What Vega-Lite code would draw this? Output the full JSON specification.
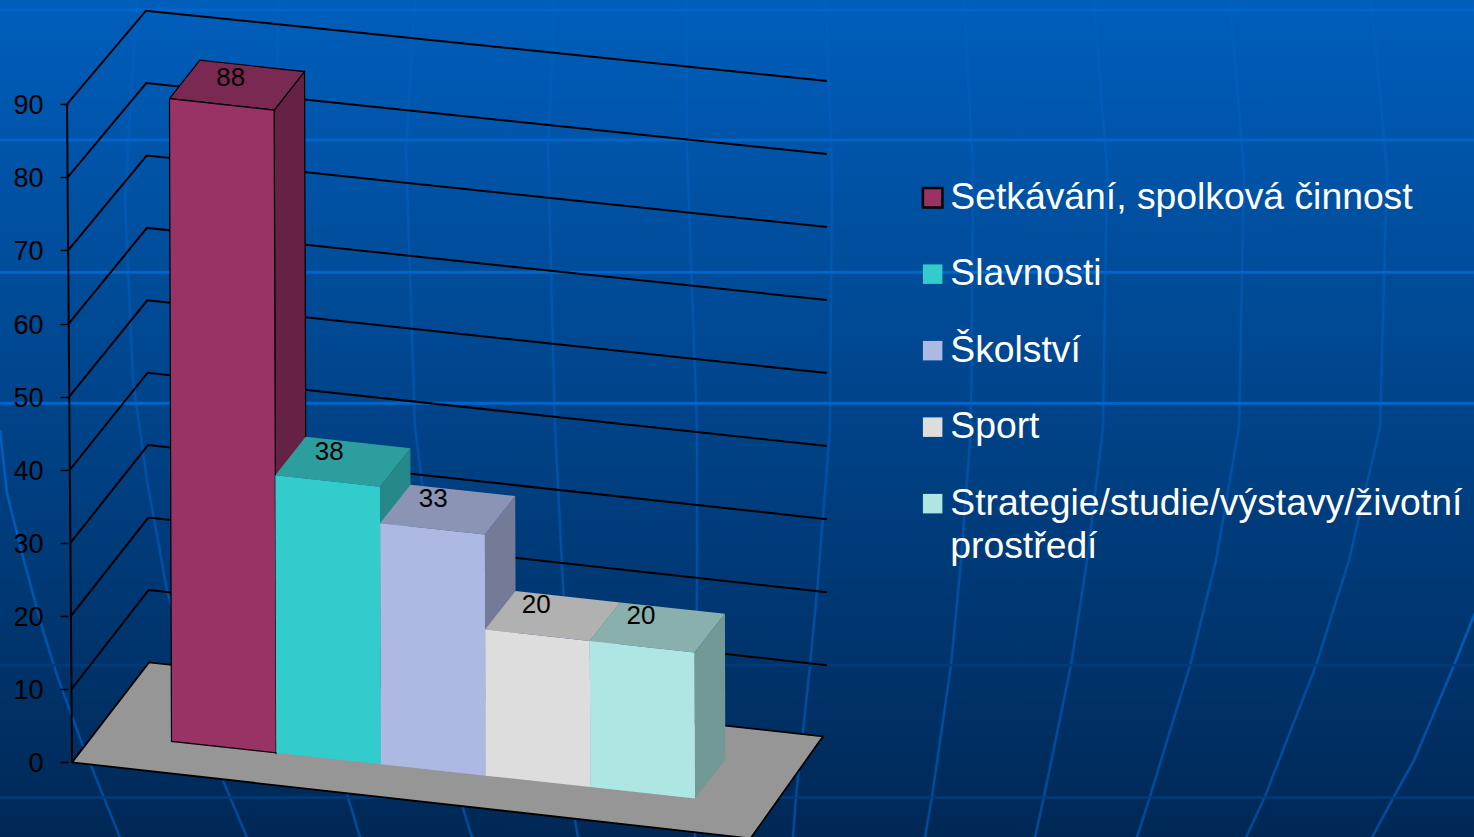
{"$schema":"https://vega.github.io/schema/vega-lite/v6.json","width":1474,"height":837,"padding":0,"autosize":{"type":"none"},"view":{"stroke":null,"fill":{"gradient":"linear","x1":0,"y1":0,"x2":0,"y2":1,"stops":[{"offset":0,"color":"#005EBB"},{"offset":1,"color":"#002856"}]}},
"datasets":{"bars":[{"category":"Setkávání, spolková činnost","value":88},{"category":"Slavnosti","value":38},{"category":"Školství","value":33},{"category":"Sport","value":20},{"category":"Strategie/studie/výstavy/životní prostředí","value":20}],
"levels":[{"level":0},{"level":10},{"level":20},{"level":30},{"level":40},{"level":50},{"level":60},{"level":70},{"level":80},{"level":90}],
"backdrop":[
{"k":"a","l":"h10","gx":0,"gy":10},{"k":"a","l":"h10","gx":1474,"gy":10},{"k":"a","l":"h140","gx":0,"gy":140},{"k":"a","l":"h140","gx":1474,"gy":140},{"k":"a","l":"h272","gx":0,"gy":272},{"k":"a","l":"h272","gx":1474,"gy":272},{"k":"a","l":"h403","gx":0,"gy":403},{"k":"a","l":"h403","gx":1474,"gy":403},
{"k":"c","l":"h665","gx":0,"gy":665},{"k":"c","l":"h665","gx":1474,"gy":665},{"k":"c","l":"h797","gx":0,"gy":797},{"k":"c","l":"h797","gx":1474,"gy":797},
{"k":"g","l":"m1","gx":826,"gy":0},{"k":"g","l":"m1","gx":832,"gy":170},{"k":"g","l":"m1","gx":830,"gy":427},{"k":"g","l":"m1","gx":818,"gy":580},{"k":"g","l":"m1","gx":810,"gy":665},{"k":"g","l":"m1","gx":796,"gy":796},{"k":"g","l":"m1","gx":793,"gy":837},
{"k":"g","l":"m2","gx":964,"gy":0},{"k":"g","l":"m2","gx":973,"gy":170},{"k":"g","l":"m2","gx":971,"gy":427},{"k":"g","l":"m2","gx":961,"gy":560},{"k":"g","l":"m2","gx":951,"gy":665},{"k":"g","l":"m2","gx":932,"gy":796},{"k":"g","l":"m2","gx":925,"gy":837},
{"k":"g","l":"m3","gx":1094,"gy":0},{"k":"g","l":"m3","gx":1107,"gy":170},{"k":"g","l":"m3","gx":1103,"gy":427},{"k":"g","l":"m3","gx":1087,"gy":560},{"k":"g","l":"m3","gx":1071,"gy":665},{"k":"g","l":"m3","gx":1044,"gy":796},{"k":"g","l":"m3","gx":1035,"gy":837},
{"k":"g","l":"m4","gx":1230,"gy":0},{"k":"g","l":"m4","gx":1244,"gy":170},{"k":"g","l":"m4","gx":1239,"gy":427},{"k":"g","l":"m4","gx":1216,"gy":560},{"k":"g","l":"m4","gx":1190,"gy":665},{"k":"g","l":"m4","gx":1150,"gy":796},{"k":"g","l":"m4","gx":1137,"gy":837},
{"k":"g","l":"m5","gx":1371,"gy":0},{"k":"g","l":"m5","gx":1387,"gy":170},{"k":"g","l":"m5","gx":1380,"gy":427},{"k":"g","l":"m5","gx":1349,"gy":560},{"k":"g","l":"m5","gx":1316,"gy":665},{"k":"g","l":"m5","gx":1265,"gy":796},{"k":"g","l":"m5","gx":1246,"gy":837},
{"k":"g","l":"m6","gx":1480,"gy":600},{"k":"g","l":"m6","gx":1454,"gy":665},{"k":"g","l":"m6","gx":1414,"gy":760},{"k":"g","l":"m6","gx":1394,"gy":796},{"k":"g","l":"m6","gx":1372,"gy":837},
{"k":"g","l":"m0","gx":686,"gy":0},{"k":"g","l":"m0","gx":687,"gy":150},{"k":"g","l":"m0","gx":697,"gy":427},{"k":"g","l":"m0","gx":697,"gy":580},{"k":"g","l":"m0","gx":696,"gy":700},{"k":"g","l":"m0","gx":695,"gy":837},
{"k":"g","l":"m7","gx":555,"gy":0},{"k":"g","l":"m7","gx":548,"gy":150},{"k":"g","l":"m7","gx":555,"gy":427},{"k":"g","l":"m7","gx":575,"gy":820},{"k":"g","l":"m7","gx":578,"gy":837},
{"k":"g","l":"m8","gx":415,"gy":0},{"k":"g","l":"m8","gx":406,"gy":150},{"k":"g","l":"m8","gx":415,"gy":427},{"k":"g","l":"m8","gx":463,"gy":808},{"k":"g","l":"m8","gx":472,"gy":837},
{"k":"g","l":"m9","gx":278,"gy":0},{"k":"g","l":"m9","gx":276,"gy":200},{"k":"g","l":"m9","gx":290,"gy":427},{"k":"g","l":"m9","gx":348,"gy":797},{"k":"g","l":"m9","gx":360,"gy":837},
{"k":"g","l":"m10","gx":137,"gy":0},{"k":"g","l":"m10","gx":125,"gy":200},{"k":"g","l":"m10","gx":133,"gy":380},{"k":"g","l":"m10","gx":147,"gy":480},{"k":"g","l":"m10","gx":167,"gy":590},{"k":"g","l":"m10","gx":223,"gy":780},{"k":"g","l":"m10","gx":247,"gy":837},
{"k":"g","l":"m11","gx":0,"gy":430},{"k":"g","l":"m11","gx":7,"gy":493},{"k":"g","l":"m11","gx":23,"gy":557},{"k":"g","l":"m11","gx":43,"gy":630},{"k":"g","l":"m11","gx":57,"gy":675},{"k":"g","l":"m11","gx":82,"gy":743},{"k":"g","l":"m11","gx":120,"gy":837}
]},
"encoding":{"x":{"field":"px","type":"quantitative","scale":{"domain":[-1.638,12.44],"nice":false,"zero":false},"axis":null},"y":{"field":"py","type":"quantitative","scale":{"domain":[-10.2,104.24],"nice":false,"zero":false},"axis":{"values":[0,10,20,30,40,50,60,70,80,90],"title":null,"domain":false,"grid":false,"offset":-68,"tickSize":8,"tickWidth":1.5,"tickColor":"#000000","labelPadding":17,"labelOffset":1.5,"labelColor":"#000000","labelFontSize":27,"labelFont":"Liberation Sans","zindex":1}},"order":{"field":"o"}},
"layer":[
{"data":{"name":"backdrop"},"transform":[{"filter":"datum.k=='g'"},{"calculate":"(datum.gx-171.5)/104.7","as":"px"},{"calculate":"(762-datum.gy)/7.31","as":"py"},{"window":[{"op":"row_number","as":"o"}]}],"mark":{"type":"line","strokeWidth":2.5,"stroke":{"gradient":"linear","x1":0,"y1":0,"x2":0,"y2":1,"stops":[{"offset":0,"color":"#0060BE"},{"offset":0.5,"color":"#0052A8"},{"offset":1,"color":"#004A9A"}]}},"encoding":{"detail":{"field":"l"}}},
{"data":{"name":"backdrop"},"transform":[{"filter":"datum.k=='a'"},{"calculate":"(datum.gx-171.5)/104.7","as":"px"},{"calculate":"(762-datum.gy)/7.31","as":"py"},{"window":[{"op":"row_number","as":"o"}]}],"mark":{"type":"line","strokeWidth":3,"stroke":"#0066CC"},"encoding":{"detail":{"field":"l"}}},
{"data":{"name":"backdrop"},"transform":[{"filter":"datum.k=='c'"},{"calculate":"(datum.gx-171.5)/104.7","as":"px"},{"calculate":"(762-datum.gy)/7.31","as":"py"},{"window":[{"op":"row_number","as":"o"}]}],"mark":{"type":"line","strokeWidth":2.5,"stroke":"#003C7A"},"encoding":{"detail":{"field":"l"}}},
{"data":{"name":"levels"},"transform":[{"filter":"datum.level>0"},{"calculate":"[{o:0,x:-0.95-0.00053*datum.level,y:datum.level},{o:1,x:-0.215-0.00032*datum.level,y:13.68+0.99*datum.level},{o:2,x:6.26,y:3.3+0.9986*datum.level}]","as":"pts"},{"flatten":["pts"],"as":["p"]},{"calculate":"datum.p.x","as":"px"},{"calculate":"datum.p.y","as":"py"},{"calculate":"datum.p.o","as":"o"}],"mark":{"type":"line","stroke":"#000000","strokeWidth":2},"encoding":{"detail":{"field":"level"}}},
{"data":{"name":"levels"},"transform":[{"filter":"datum.level==0||datum.level==90"},{"calculate":"-0.95-0.00053*datum.level","as":"px"},{"calculate":"datum.level","as":"py"},{"calculate":"datum.level","as":"o"}],"mark":{"type":"line","stroke":"#000000","strokeWidth":2}},
{"data":{"name":"levels"},"transform":[{"filter":"datum.level==0"},{"calculate":"[{o:0,x:-0.95,y:0},{o:1,x:-0.215,y:13.68},{o:2,x:6.223,y:3.56},{o:3,x:5.53,y:-10.4},{o:4,x:-0.95,y:0}]","as":"pts"},{"flatten":["pts"],"as":["p"]},{"calculate":"datum.p.x","as":"px"},{"calculate":"datum.p.y","as":"py"},{"calculate":"datum.p.o","as":"o"}],"mark":{"type":"line","stroke":"#000000","strokeWidth":1.8,"fill":"#969696"}},
{"data":{"name":"bars"},"transform":[{"window":[{"op":"row_number","as":"n"}]},{"calculate":"datum.n-1","as":"i"},{"calculate":"2.87-1.56*datum.i","as":"b0"},{"calculate":"datum.b0-1.56","as":"b1"},{"calculate":"0.9986*datum.value","as":"t"},{"calculate":"0.00022*datum.value","as":"s"},{"calculate":"[{o:0,x:datum.i+1-datum.s,y:datum.b1+datum.t},{o:1,x:datum.i+1,y:datum.b1},{o:2,x:datum.i+1.29,y:datum.b1+5.27},{o:3,x:datum.i+1.29-datum.s,y:datum.b1+datum.t+5.27},{o:4,x:datum.i+1-datum.s,y:datum.b1+datum.t}]","as":"pts"},{"flatten":["pts"],"as":["p"]},{"calculate":"datum.p.x","as":"px"},{"calculate":"datum.p.y","as":"py"},{"calculate":"datum.p.o","as":"o"}],"mark":{"type":"line","strokeWidth":1.2},"encoding":{"fill":{"field":"category","type":"nominal","sort":null,"scale":{"range":["#662244","#268888","#747B97","#939393","#739997"]},"legend":null},"stroke":{"field":"category","type":"nominal","sort":null,"scale":{"range":["#000000","transparent","transparent","transparent","transparent"]},"legend":null}}},
{"data":{"name":"bars"},"transform":[{"window":[{"op":"row_number","as":"n"}]},{"calculate":"datum.n-1","as":"i"},{"calculate":"2.87-1.56*datum.i","as":"b0"},{"calculate":"datum.b0-1.56","as":"b1"},{"calculate":"0.9986*datum.value","as":"t"},{"calculate":"0.00022*datum.value","as":"s"},{"calculate":"[{o:0,x:datum.i-datum.s,y:datum.b0+datum.t},{o:1,x:datum.i+1-datum.s,y:datum.b1+datum.t},{o:2,x:datum.i+1.29-datum.s,y:datum.b1+datum.t+5.27},{o:3,x:datum.i+0.29-datum.s,y:datum.b0+datum.t+5.27},{o:4,x:datum.i-datum.s,y:datum.b0+datum.t}]","as":"pts"},{"flatten":["pts"],"as":["p"]},{"calculate":"datum.p.x","as":"px"},{"calculate":"datum.p.y","as":"py"},{"calculate":"datum.p.o","as":"o"}],"mark":{"type":"line","strokeWidth":1.2},"encoding":{"fill":{"field":"category","type":"nominal","sort":null,"scale":{"range":["#7A2952","#2D9E9E","#8C94B6","#B1B1B1","#8AB0AE"]},"legend":null},"stroke":{"field":"category","type":"nominal","sort":null,"legend":null}}},
{"data":{"name":"bars"},"transform":[{"window":[{"op":"row_number","as":"n"}]},{"calculate":"datum.n-1","as":"i"},{"calculate":"2.87-1.56*datum.i","as":"b0"},{"calculate":"datum.b0-1.56","as":"b1"},{"calculate":"0.9986*datum.value","as":"t"},{"calculate":"0.00022*datum.value","as":"s"},{"calculate":"[{o:0,x:datum.i-datum.s,y:datum.b0+datum.t},{o:1,x:datum.i+1-datum.s,y:datum.b1+datum.t},{o:2,x:datum.i+1,y:datum.b1},{o:3,x:datum.i,y:datum.b0},{o:4,x:datum.i-datum.s,y:datum.b0+datum.t}]","as":"pts"},{"flatten":["pts"],"as":["p"]},{"calculate":"datum.p.x","as":"px"},{"calculate":"datum.p.y","as":"py"},{"calculate":"datum.p.o","as":"o"}],"mark":{"type":"line","strokeWidth":1.2},"encoding":{"fill":{"field":"category","type":"nominal","sort":null,"scale":{"range":["#993366","#33CCCC","#AEB9E3","#DDDDDD","#AEE6E3"]},"legend":null},"stroke":{"field":"category","type":"nominal","sort":null,"legend":null}}},
{"data":{"name":"bars"},"transform":[{"window":[{"op":"row_number","as":"n"}]},{"calculate":"datum.n-1+0.46+0.0012*datum.value","as":"px"},{"calculate":"2.87-1.56*(datum.n-0.5)+datum.value+4.3-0.009*datum.value","as":"py"}],"mark":{"type":"text","font":"Liberation Sans","fontSize":26,"color":"#000000","baseline":"middle","align":"center"},"encoding":{"text":{"field":"value","type":"quantitative"}}},
{"data":{"name":"bars"},"transform":[{"window":[{"op":"row_number","as":"n"}]},{"calculate":"datum.n","as":"px"},{"calculate":"datum.value","as":"py"}],"mark":{"type":"point","shape":"square","filled":true,"opacity":1},"encoding":{"size":{"value":0},"fill":{"field":"category","type":"nominal","sort":null,"scale":{"range":["#993366","#33CCCC","#AEB9E3","#DDDDDD","#AEE6E3"]},"legend":{"title":null,"orient":"none","legendX":914,"legendY":179,"symbolType":"square","symbolSize":380,"labelFont":"Liberation Sans","labelFontSize":37.3,"labelColor":"#FFFFFF","labelOffset":-1,"labelLimit":600,"rowPadding":38.5,"labelExpr":"datum.label=='Strategie/studie/výstavy/životní prostředí'?['Strategie/studie/výstavy/životní','prostředí']:datum.label","encoding":{"symbols":{"stroke":{"condition":{"test":"datum.value=='Setkávání, spolková činnost'","value":"#000000"},"value":"transparent"},"strokeWidth":{"value":2.5}},"labels":{"lineHeight":{"value":43}}}}}}}
],
"resolve":{"scale":{"fill":"independent"}}}
